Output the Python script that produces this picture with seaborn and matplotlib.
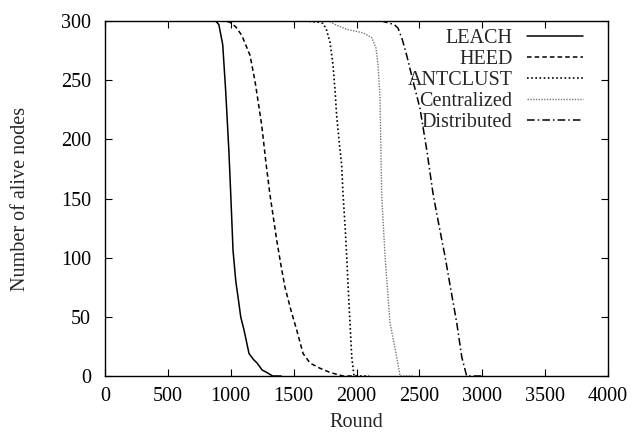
import seaborn as sns
import pandas as pd
import matplotlib
matplotlib.use("Agg")
import matplotlib.pyplot as plt

# values (round, alive nodes)
leach_round = [0, 880, 905, 936, 960, 985, 1000, 1018, 1040, 1060, 1079, 1105, 1145, 1180, 1209, 1250, 1286, 1333, 1400]
leach_alive = [300, 300, 297, 280, 240, 190, 153, 106, 80, 65, 50, 39, 19, 14, 11, 5, 3, 0, 0]

heed_round = [0, 950, 994, 1040, 1087, 1153, 1193, 1246, 1280, 1312, 1340, 1365, 1400, 1431, 1480, 1524, 1575, 1630, 1700, 1789, 1893, 2000]
heed_alive = [300, 300, 299, 295, 288, 271, 249, 212, 180, 153, 133, 115, 93, 75, 55, 39, 19, 11, 7, 3, 0, 0]

antclust_round = [0, 1600, 1700, 1733, 1760, 1789, 1813, 1830, 1842, 1862, 1882, 1893, 1910, 1922, 1935, 1948, 1962, 1980, 2100]
antclust_alive = [300, 300, 299, 298, 293, 282, 263, 240, 220, 198, 178, 153, 125, 101, 72, 45, 16, 0, 0]

central_round = [0, 1780, 1829, 1922, 2052, 2121, 2155, 2171, 2187, 2200, 2227, 2266, 2320, 2346, 2450]
central_alive = [300, 300, 297, 293, 290, 286, 277, 263, 235, 153, 101, 45, 16, 0, 0]

distrib_round = [0, 2200, 2266, 2300, 2330, 2365, 2399, 2450, 2505, 2560, 2610, 2660, 2704, 2750, 2797, 2837, 2876, 3000]
distrib_alive = [300, 300, 298, 297, 294, 284, 271, 249, 226, 190, 153, 125, 101, 73, 45, 16, 0, 0]

series = [
    ("LEACH", leach_round, leach_alive, "black", "-", 1.1),
    ("HEED", heed_round, heed_alive, "black", (0, (3, 2)), 1.1),
    ("ANTCLUST", antclust_round, antclust_alive, "black", (0, (1, 1.5)), 1.2),
    ("Centralized", central_round, central_alive, "#777777", (0, (1, 1)), 1.0),
    ("Distributed", distrib_round, distrib_alive, "black", (0, (5, 2, 1, 2)), 1.1),
]

sns.set_style("ticks")
plt.rcParams["font.family"] = ["Liberation Serif", "DejaVu Serif"]
plt.rcParams["font.size"] = 14.5

fig = plt.figure(figsize=(6.35, 4.36), dpi=100)
ax = fig.add_axes([0.1654, 0.1376, 0.7921, 0.8142])

for name, xs, ys, color, ls, lw in series:
    df = pd.DataFrame({"Round": xs, "Alive": ys})
    sns.lineplot(data=df, x="Round", y="Alive", ax=ax, color=color,
                 linestyle=ls, linewidth=lw, label=name, estimator=None)

ax.set_xlim(0, 4000)
ax.set_ylim(0, 300)
ax.set_xticks(range(0, 4001, 500))
ax.set_yticks(range(0, 301, 50))
ax.set_xlabel("Round", fontsize=14.5, labelpad=5)
ax.set_ylabel("Number of alive nodes", fontsize=14.5, labelpad=22)
ax.tick_params(direction="in", top=True, right=True, length=5, width=0.8,
               labelsize=14.5, colors="black")
ax.tick_params(axis="x", pad=8)
ax.tick_params(axis="y", pad=10)
for sp in ax.spines.values():
    sp.set_linewidth(1.0)
    sp.set_color("black")

leg = ax.legend(loc="upper right", bbox_to_anchor=(0.95, 0.979), frameon=False,
                markerfirst=False, handlelength=2.75, handletextpad=0.75,
                labelspacing=0.1, borderpad=0, borderaxespad=0, fontsize=14.5)
# right-align the legend labels like gnuplot does
leg._legend_box.get_children()[1].get_children()[0].align = "right"

fig.savefig("out.png", dpi=100)
